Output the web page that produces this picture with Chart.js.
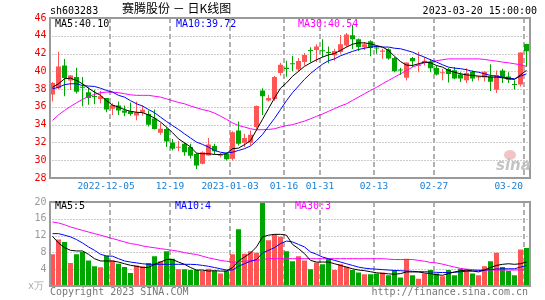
<!DOCTYPE html>
<html>
<head>
<meta charset="utf-8">
<script src="https://cdn.jsdelivr.net/npm/chart.js@4.4.0/dist/chart.umd.min.js"></script>
<style>
  html, body { margin: 0; padding: 0; background: #fff; }
  #wrap { position: relative; width: 545px; height: 300px; overflow: hidden;
          font-family: "DejaVu Sans Mono", monospace; font-size: 10px; line-height: 12px; }
  #kline { position: absolute; left: 0; top: 0; }
  #vol { position: absolute; left: 0; top: 190px; }
  .t { position: absolute; white-space: pre; }
  #logo { position: absolute; left: 496px; top: 149px; width: 36px; height: 26px; }
</style>
</head>
<body>
<div id="wrap">
  <canvas id="kline" width="545" height="196"></canvas>
  <canvas id="vol" width="545" height="110"></canvas>

  <div class="t" style="left:50px;top:5px;color:#000">sh603283</div>
  <div class="t" style="left:122px;top:1px;font:12px/14px 'Noto Sans CJK SC';color:#000">赛腾股份 － 日K线图</div>
  <div class="t" style="right:8px;top:5px;color:#000">2023-03-20 15:00:00</div>

  <div class="t" style="left:55px;top:18px;color:#000">MA5:40.10</div>
  <div class="t" style="left:176px;top:18px;color:#0000ff">MA10:39.72</div>
  <div class="t" style="left:298px;top:18px;color:#ff00ff">MA30:40.54</div>

  <div class="t" style="left:55px;top:200px;color:#000">MA5:5</div>
  <div class="t" style="left:175px;top:200px;color:#0000ff">MA10:4</div>
  <div class="t" style="left:295px;top:200px;color:#ff00ff">MA30:3</div>

  <div class="t" style="left:28px;top:280px;color:#aaa">x万</div>
  <div class="t" style="left:50px;top:286px;color:#777">Copyright 2023 SINA.COM</div>
  <div class="t" style="right:17px;top:286px;color:#777">http://finance.sina.com.cn</div>

  <div id="logo">
    <div class="t" style="left:8px;top:1px;width:12px;height:10px;border-radius:50%;background:#f4c4c4"></div>
    <div class="t" style="left:0;top:8px;font:italic bold 15px/16px 'DejaVu Sans';color:#c4c4c4">sina</div>
  </div>
</div>

<script>
/* ---------------- DATA ---------------- */
const dates = [
  "2022-11-21","2022-11-22","2022-11-23","2022-11-24","2022-11-25","2022-11-28","2022-11-29","2022-11-30",
  "2022-12-01","2022-12-02","2022-12-05","2022-12-06","2022-12-07","2022-12-08","2022-12-09","2022-12-12",
  "2022-12-13","2022-12-14","2022-12-15","2022-12-16","2022-12-19","2022-12-20","2022-12-21","2022-12-22",
  "2022-12-23","2022-12-26","2022-12-27","2022-12-28","2022-12-29","2022-12-30","2023-01-03","2023-01-04",
  "2023-01-05","2023-01-06","2023-01-09","2023-01-10","2023-01-11","2023-01-12","2023-01-13","2023-01-16",
  "2023-01-17","2023-01-18","2023-01-19","2023-01-20","2023-01-30","2023-01-31","2023-02-01","2023-02-02",
  "2023-02-03","2023-02-06","2023-02-07","2023-02-08","2023-02-09","2023-02-10","2023-02-13","2023-02-14",
  "2023-02-15","2023-02-16","2023-02-17","2023-02-20","2023-02-21","2023-02-22","2023-02-23","2023-02-24",
  "2023-02-27","2023-02-28","2023-03-01","2023-03-02","2023-03-03","2023-03-06","2023-03-07","2023-03-08",
  "2023-03-09","2023-03-10","2023-03-13","2023-03-14","2023-03-15","2023-03-16","2023-03-17","2023-03-20"
];

const axisDates = ["2022-12-05","2022-12-19","2023-01-03","2023-01-16","2023-01-31","2023-02-13","2023-02-27","2023-03-20"];
const axisLabels = ["2022-12-05","12-19","2023-01-03","01-16","01-31","02-13","02-27","03-20"];

const priceTicks = [28, 30, 32, 34, 36, 38, 40, 42, 44, 46];
const volTicks = [0, 4, 8, 12, 16, 20];

const open = [
  37.4, 38.1, 40.66, 38.98, 39.35, 38.25, 37.66, 37.2, 36.9, 37.0,
  35.8, 36.16, 35.6, 35.5, 35.04, 35.34, 35.2, 34.7, 33.09, 33.5,
  32.0, 31.4, 31.85, 31.5, 30.7, 29.6, 30.54, 31.6, 30.5, 30.73,
  30.16, 33.35, 31.96, 31.96, 33.73, 37.85, 36.73, 36.9, 39.8, 40.4,
  40.9, 40.2, 41.05, 42.4, 42.4, 42.35, 42.15, 41.8, 42.18, 42.9,
  44.05, 43.6, 42.7, 43.38, 42.66, 42.2, 42.48, 41.5, 40.18, 39.27,
  41.5, 40.6, 40.96, 41.04, 40.38, 39.78, 40.25, 40.13, 39.63, 38.99,
  39.93, 39.3, 39.32, 39.43, 37.93, 40.08, 39.43, 38.55, 38.52, 43.07
];
const high = [
  38.8, 42.2, 41.4, 39.6, 40.4, 39.35, 38.2, 37.9, 37.8, 37.0,
  36.4, 36.6, 36.16, 36.5, 36.6, 36.16, 35.6, 35.7, 34.2, 33.7,
  32.4, 32.2, 32.0, 31.85, 30.8, 31.0, 32.5, 31.85, 30.8, 30.9,
  33.25, 34.36, 32.97, 33.35, 36.16, 38.1, 37.36, 39.5, 40.96, 41.2,
  41.75, 41.5, 42.05, 42.7, 43.05, 43.6, 42.8, 42.55, 44.1, 44.3,
  45.2, 43.7, 43.3, 43.5, 42.9, 42.55, 42.6, 41.6, 40.4, 41.0,
  41.6, 42.2, 41.6, 41.4, 40.66, 40.3, 40.4, 40.5, 39.9, 40.36,
  40.1, 39.5, 40.0, 40.8, 40.1, 40.3, 39.9, 39.0, 42.12, 43.1
];
const low = [
  36.6, 38.0, 37.2, 37.9, 37.5, 36.07, 36.25, 36.3, 36.4, 35.4,
  35.1, 35.1, 34.96, 35.0, 34.5, 35.0, 33.8, 33.45, 32.86, 31.5,
  31.1, 31.0, 30.5, 30.2, 29.0, 29.55, 30.5, 30.7, 30.3, 29.98,
  29.98, 31.66, 31.5, 31.66, 33.54, 35.1, 36.6, 36.7, 39.54, 39.4,
  40.0, 39.96, 40.65, 41.0, 41.05, 41.6, 40.9, 41.2, 41.97, 42.7,
  42.5, 42.3, 42.4, 41.7, 41.97, 41.4, 41.3, 39.9, 39.6, 38.97,
  40.5, 39.9, 40.66, 39.9, 39.54, 39.0, 38.73, 39.1, 38.8, 38.7,
  38.86, 38.97, 38.86, 37.8, 37.55, 38.7, 38.7, 37.96, 38.3, 40.5
];
const close = [
  38.7, 40.55, 39.24, 39.54, 37.7, 38.15, 37.0, 37.1, 37.2, 35.7,
  36.2, 35.6, 35.34, 35.2, 35.4, 35.67, 34.0, 33.5, 33.54, 32.1,
  31.3, 31.5, 30.9, 30.5, 29.4, 30.9, 31.78, 31.0, 30.6, 30.1,
  33.16, 31.85, 32.49, 32.86, 36.1, 37.2, 36.99, 39.35, 40.74, 40.25,
  40.8, 41.15, 41.85, 42.3, 42.8, 42.25, 42.05, 42.3, 43.05, 44.15,
  43.62, 42.75, 43.05, 42.63, 42.56, 42.35, 41.43, 40.0, 40.08, 40.98,
  41.13, 40.7, 41.2, 40.36, 39.63, 39.85, 39.7, 39.19, 39.19, 39.81,
  39.19, 39.4, 39.95, 38.82, 39.6, 39.27, 39.05, 38.45, 42.11, 42.27
];

const ma5 = [
  38.2, 38.6, 39.16, 39.24, 38.97, 38.6, 38.1, 37.66, 37.3, 36.7,
  36.2, 35.98, 35.7, 35.5, 35.4, 35.35, 35.1, 34.74, 34.3, 33.73,
  33.1, 32.4, 31.96, 31.5, 30.8, 30.73, 30.73, 30.65, 30.65, 30.73,
  31.3, 31.36, 31.75, 32.2, 33.4, 34.6, 35.8, 37.0, 38.1, 38.7,
  39.44, 40.0, 40.56, 40.94, 41.3, 41.6, 41.85, 42.0, 42.35, 42.73,
  43.05, 43.2, 43.2, 43.1, 42.9, 42.73, 42.35, 41.7, 41.1, 40.7,
  40.66, 40.85, 41.04, 40.96, 40.66, 40.47, 40.1, 39.9, 39.72, 39.6,
  39.54, 39.46, 39.43, 39.35, 39.35, 39.27, 39.16, 39.09, 39.6, 40.1
];
const ma10 = [
  38.04, 38.2, 38.5, 38.6, 38.6, 38.4, 38.34, 38.3, 38.1, 37.85,
  37.66, 37.3, 37.1, 36.7, 36.35, 36.1, 35.7, 35.35, 34.85, 34.36,
  33.9, 33.46, 32.97, 32.5, 32.04, 31.78, 31.48, 31.1, 30.9, 30.8,
  30.9, 31.1, 31.3, 31.6, 32.2, 32.9, 33.8, 34.7, 35.7, 36.7,
  37.6, 38.35, 39.1, 39.75, 40.3, 40.8, 41.2, 41.4, 41.75, 42.0,
  42.24, 42.46, 42.6, 42.73, 42.8, 42.73, 42.73, 42.6, 42.54, 42.35,
  42.16, 41.86, 41.6, 41.3, 41.04, 40.74, 40.47, 40.36, 40.3, 40.18,
  40.0, 39.9, 39.72, 39.54, 39.46, 39.35, 39.24, 39.16, 39.46, 39.72
];
const ma30 = [
  34.48, 35.1, 35.6, 36.05, 36.46, 36.84, 37.18, 37.4, 37.6, 37.66,
  37.66, 37.6, 37.48, 37.36, 37.3, 37.3, 37.3, 37.2, 37.1, 36.9,
  36.7, 36.5, 36.35, 36.1, 35.9, 35.7, 35.55, 35.3, 34.96, 34.6,
  34.2, 33.9, 33.73, 33.54, 33.43, 33.43, 33.46, 33.54, 33.73, 33.9,
  34.0, 34.2, 34.4, 34.66, 34.93, 35.2, 35.5, 35.8, 36.1, 36.35,
  36.73, 37.1, 37.48, 37.85, 38.2, 38.6, 38.97, 39.35, 39.72, 40.1,
  40.47, 40.74, 40.96, 41.1, 41.2, 41.3, 41.4, 41.4, 41.4, 41.4,
  41.4, 41.4, 41.34, 41.23, 41.15, 41.04, 40.96, 40.85, 40.74, 40.56
];

const volume = [
  7.55, 11.1, 10.5, 5.5, 7.55, 8.1, 6.1, 4.7, 4.45, 7.2,
  6.1, 5.3, 4.5, 3.1, 4.9, 4.7, 5.5, 7.1, 5.9, 8.26,
  6.5, 4.0, 4.0, 3.8, 3.8, 3.65, 4.1, 3.65, 2.95, 3.65,
  7.55, 13.5, 7.7, 8.26, 7.9, 20.5, 10.9, 12.3, 11.7, 8.26,
  5.9, 7.1, 6.1, 4.0, 5.6, 5.2, 6.4, 3.8, 5.2, 4.6,
  3.8, 3.2, 2.8, 2.8, 2.95, 3.2, 2.55, 3.8, 2.0, 6.5,
  2.55, 1.74, 2.95, 3.8, 2.95, 2.3, 3.8, 2.55, 4.1, 4.0,
  2.95, 2.55, 4.7, 5.9, 7.9, 4.5, 3.6, 2.55, 8.7, 9.05
];
const volMa5 = [
  11.84, 10.25, 9.14, 8.5, 8.34, 8.34, 7.55, 6.5, 5.96, 5.96,
  5.96, 5.7, 5.3, 4.93, 4.7, 4.4, 4.4, 5.16, 5.7, 6.3,
  6.3, 5.7, 5.16, 4.4, 3.8, 3.8, 3.55, 3.65, 3.55, 3.55,
  4.4, 5.96, 6.9, 7.86, 9.3, 11.7, 12.1, 12.3, 12.3, 12.1,
  9.9, 8.9, 7.7, 6.1, 5.7, 5.7, 5.7, 5.3, 4.9, 4.5,
  4.1, 3.8, 3.65, 3.4, 3.15, 3.0, 2.9, 2.8, 2.95, 3.35,
  3.35, 3.35, 3.1, 2.95, 2.7, 2.55, 2.95, 3.35, 3.6, 3.8,
  3.6, 3.35, 3.8, 4.4, 4.9, 5.16, 5.3, 5.16, 5.3, 5.7
];
const volMa10 = [
  12.47, 12.47, 12.1, 11.7, 11.05, 10.25, 9.3, 8.5, 7.55, 7.15,
  7.1, 6.5, 5.96, 5.7, 5.5, 5.3, 5.16, 5.16, 5.16, 5.16,
  5.16, 5.16, 5.16, 5.16, 5.1, 4.9, 4.7, 4.4, 4.1, 3.8,
  3.8, 4.7, 5.3, 5.9, 6.3, 7.86, 8.5, 9.14, 10.1, 10.7,
  10.5, 9.9, 9.3, 8.1, 7.55, 6.9, 6.5, 6.1, 5.7, 5.3,
  4.9, 4.5, 4.25, 4.1, 4.0, 3.9, 3.8, 3.7, 3.65, 3.55,
  3.5, 3.4, 3.4, 3.35, 3.25, 3.2, 3.2, 3.25, 3.4, 3.5,
  3.55, 3.65, 3.8, 3.9, 4.05, 4.1, 4.1, 4.1, 4.5, 4.9
];
const volMa30 = [
  15.25, 15.0, 14.6, 14.05, 13.65, 13.25, 12.85, 12.47, 12.1, 11.7,
  11.3, 10.9, 10.5, 10.1, 9.9, 9.55, 9.3, 9.1, 8.9, 8.7,
  8.5, 8.26, 7.95, 7.7, 7.5, 7.1, 6.7, 6.4, 6.1, 5.9,
  5.7, 5.7, 5.9, 6.0, 6.1, 6.3, 6.5, 6.5, 6.5, 6.5,
  6.5, 6.5, 6.5, 6.5, 6.5, 6.5, 6.5, 6.5, 6.5, 6.5,
  6.5, 6.5, 6.5, 6.5, 6.5, 6.5, 6.4, 6.3, 6.3, 6.3,
  6.3, 6.1, 5.9, 5.6, 5.5, 5.2, 4.85, 4.5, 4.2, 4.0,
  3.9, 3.8, 3.8, 3.8, 3.8, 3.8, 3.8, 3.8, 3.85, 3.9
];

/* ---------------- STYLE ---------------- */
const RED = "#ff5555";
const GREEN = "#00a600";
const FONT = "DejaVu Sans Mono";
const upColor = open.map((o, i) => (close[i] >= o ? RED : GREEN));

/* ---------------- GRID + FRAME PLUGIN ---------------- */
function panelPlugin(drawLabels) {
  return {
    id: "panel",
    beforeDatasetsDraw(chart) {
      const { ctx, chartArea: a, scales: { x, y } } = chart;
      const slot = (a.right - a.left) / dates.length;
      ctx.save();
      // dotted horizontal grid
      ctx.strokeStyle = "#999";
      ctx.lineWidth = 1;
      ctx.setLineDash([1, 2]);
      y.ticks.forEach((t) => {
        if (t.value === y.min || t.value === y.max) return;
        const py = Math.round(y.getPixelForValue(t.value)) + 0.5;
        ctx.beginPath();
        ctx.moveTo(a.left, py);
        ctx.lineTo(a.right, py);
        ctx.stroke();
      });
      // dashed vertical grid at labelled dates
      ctx.strokeStyle = "#b0b0b0";
      ctx.lineWidth = 2;
      ctx.setLineDash([5, 3]);
      axisDates.forEach((d) => {
        const px = Math.round(x.getPixelForValue(dates.indexOf(d)) - slot / 2);
        ctx.beginPath();
        ctx.moveTo(px, a.top);
        ctx.lineTo(px, a.bottom);
        ctx.stroke();
      });
      ctx.restore();
    },
    afterDraw(chart) {
      const { ctx, chartArea: a, scales: { x } } = chart;
      const slot = (a.right - a.left) / dates.length;
      const L = Math.round(a.left), R = Math.round(a.right);
      const T = Math.round(a.top), B = Math.round(a.bottom);
      ctx.save();
      ctx.fillStyle = "#9a9a9a";
      ctx.fillRect(L - 1, T - 1, R - L + 2, 2);
      ctx.fillRect(L - 1, B - 1, R - L + 2, 2);
      ctx.fillRect(L - 1, T - 1, 2, B - T + 2);
      ctx.fillRect(R - 1, T - 1, 2, B - T + 2);
      if (drawLabels) {
        ctx.font = "9.5px '" + FONT + "'";
        ctx.fillStyle = "#1a80d4";
        ctx.textBaseline = "middle";
        axisDates.forEach((d, n) => {
          const px = Math.round(x.getPixelForValue(dates.indexOf(d)) - slot / 2);
          if (n === axisDates.length - 1) {
            ctx.textAlign = "right";
            ctx.fillText(axisLabels[n], px - 1, B + 8.5);
          } else {
            ctx.textAlign = "center";
            ctx.fillText(axisLabels[n], n === 0 ? px - 4 : px, B + 8.5);
          }
        });
      }
      ctx.restore();
    }
  };
}

function maLine(data, color) {
  return { type: "line", data, borderColor: color, borderWidth: 1,
           pointRadius: 0, tension: 0, fill: false, order: 1 };
}

function baseScales(minV, maxV, step, tickColor, hideZero) {
  return {
    x: { type: "category", offset: true, display: false, grid: { display: false } },
    y: {
      min: minV, max: maxV,
      afterFit: (s) => { s.width = 49.5; },
      afterBuildTicks: (s) => { s.ticks = (minV === 0 ? volTicks : priceTicks).map((v) => ({ value: v })); },
      grid: { display: false, drawTicks: false },
      border: { display: false },
      ticks: {
        stepSize: step, padding: 3, color: tickColor,
        font: { family: FONT, size: 10 },
        callback: (v) => (hideZero && v === 0 ? "" : v)
      }
    }
  };
}

const common = {
  responsive: false,
  animation: false,
  devicePixelRatio: 1,
  events: [],
  plugins: { legend: { display: false }, tooltip: { enabled: false } }
};

/* ---------------- K-LINE CHART ---------------- */
new Chart(document.getElementById("kline"), {
  type: "bar",
  data: {
    labels: dates,
    datasets: [
      maLine(ma5, "#000000"),
      maLine(ma10, "#0000ff"),
      maLine(ma30, "#ff00ff"),
      {
        data: low.map((l, i) => [l, high[i]]),
        backgroundColor: upColor, barThickness: 1, grouped: false,
        inflateAmount: 0, order: 3
      },
      {
        data: open.map((o, i) => [o, close[i]]),
        backgroundColor: upColor, barThickness: 5, grouped: false,
        minBarLength: 1, inflateAmount: 0, order: 2
      }
    ]
  },
  options: {
    ...common,
    layout: { padding: { left: 0, right: 15.5, top: 18, bottom: 18 } },
    scales: baseScales(28, 46, 2, "#ee0000", false)
  },
  plugins: [panelPlugin(true)]
});

/* ---------------- VOLUME CHART ---------------- */
new Chart(document.getElementById("vol"), {
  type: "bar",
  data: {
    labels: dates,
    datasets: [
      maLine(volMa5, "#000000"),
      maLine(volMa10, "#0000ff"),
      maLine(volMa30, "#ff00ff"),
      {
        data: volume, backgroundColor: upColor, barThickness: 5,
        grouped: false, inflateAmount: 0, order: 2
      }
    ]
  },
  options: {
    ...common,
    layout: { padding: { left: 0, right: 15.5, top: 12, bottom: 14 } },
    scales: baseScales(0, 20, 4, "#999999", true)
  },
  plugins: [panelPlugin(false)]
});
</script>
</body>
</html>
